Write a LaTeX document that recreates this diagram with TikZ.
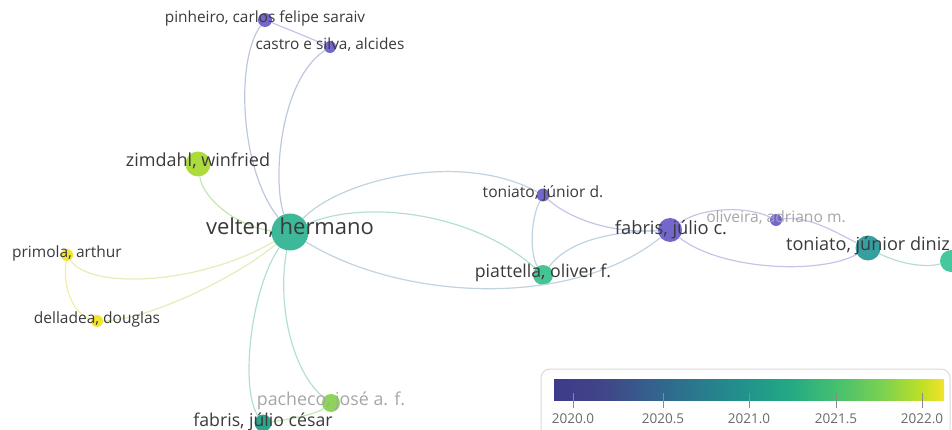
\documentclass[tikz,border=0pt]{standalone}
\usepackage{fontspec}
\setmainfont{Open Sans}
\definecolor{txt}{HTML}{3A3A3A}
\definecolor{faint}{HTML}{A6A6A6}
\definecolor{cpurple}{HTML}{7467CC}
\definecolor{cteal}{HTML}{3DB899}
\definecolor{clime}{HTML}{ADDB3E}
\definecolor{cyellow}{HTML}{F3E42C}
\definecolor{clgreen}{HTML}{8FD45A}
\definecolor{cdteal}{HTML}{2BA68C}
\definecolor{cpia}{HTML}{45C494}
\definecolor{cdiniz}{HTML}{36A0A0}
\definecolor{cright}{HTML}{45C89E}
\definecolor{epv}{HTML}{BDC8DE}
\definecolor{epp}{HTML}{C7C3E8}
\definecolor{ezim}{HTML}{C3E6B2}
\definecolor{eyel}{HTML}{E2EEBA}
\definecolor{eyy}{HTML}{F3EE9E}
\definecolor{etl}{HTML}{B3E0CE}
\definecolor{epg}{HTML}{C4E8B4}
\definecolor{emix}{HTML}{BFD3E0}
\definecolor{legbd}{HTML}{D9D9D9}
\definecolor{tickc}{HTML}{8A8A8A}
\definecolor{tlab}{HTML}{6A6A6A}
\definecolor{va}{HTML}{3E3A8C}
\definecolor{vb}{HTML}{414487}
\definecolor{vc}{HTML}{355F8D}
\definecolor{vd}{HTML}{2A788E}
\definecolor{ve}{HTML}{21918C}
\definecolor{vf}{HTML}{22A884}
\definecolor{vg}{HTML}{44BF70}
\definecolor{vh}{HTML}{7AD151}
\definecolor{vi}{HTML}{BDDF26}
\definecolor{vj}{HTML}{F3E42A}
\pgfdeclarehorizontalshading{viridis}{100bp}{color(0bp)=(va); color(25bp)=(va); color(31bp)=(vb); color(37bp)=(vc); color(43bp)=(vd); color(49bp)=(ve); color(55bp)=(vf); color(61bp)=(vg); color(67bp)=(vh); color(72bp)=(vi); color(75bp)=(vj); color(100bp)=(vj)}
\newcommand{\setfs}[1]{\fontsize{#1}{#1}\selectfont}
\tikzset{
  dot/.style={circle, inner sep=0pt, minimum size=#1, draw=none},
  lbl/.style={text=txt, inner sep=0pt, text height=0.72em, text depth=0.22em, anchor=center},
  lnk/.style={line width=1.2pt, draw=#1},
  tickline/.style={draw=tickc, line width=1pt},
}
\begin{document}
\begin{tikzpicture}[x=1pt,y=-1pt]
\useasboundingbox (0,0) rectangle (952,430);
\clip (0,0) rectangle (952,430);

% legend
\draw[draw=legbd, fill=white, rounded corners=9pt, line width=1pt] (541,369) rectangle (950,450);
\shade[shading=viridis] (554,379) rectangle (944,400);
\foreach \x/\t [count=\i] in {573/2020.0, 663/2020.5, 749/2021.0, 836/2021.5, 922/2022.0} {
  \draw[tickline] (\x,393) -- (\x,408);
  \node[text=tlab, inner sep=0pt, font=\setfs{13.5}] (tk\i) at (\x,418.5) {\t};
}

% nodes (circles)
\node[dot=37, fill=cteal] (velten) at (290,232) {};
\node[dot=14, fill=cpurple] (pinheiro) at (265,20) {};
\node[dot=12, fill=cpurple] (castro) at (330,47) {};
\node[dot=25, fill=clime] (zimdahl) at (198,164) {};
\node[dot=12, fill=cyellow] (primola) at (67,255) {};
\node[dot=12, fill=cyellow] (delladea) at (97,321) {};
\node[dot=18, fill=clgreen] (pacheco) at (331,403) {};
\node[dot=17, fill=cdteal] (fabrisjc) at (263,423) {};
\node[dot=13, fill=cpurple] (toniatod) at (543,195) {};
\node[dot=20, fill=cpia] (piattella) at (543,275) {};
\node[dot=24, fill=cpurple] (fabrisc) at (670,230) {};
\node[dot=12, fill=cpurple] (oliveira) at (776,220) {};
\node[dot=25, fill=cdiniz] (diniz) at (868,248) {};
\node[dot=22, fill=cright] (rightn) at (951,261) {};

% connectors
\draw[lnk=epv] (velten) .. controls (240,170) and (235,60) .. (pinheiro);
\draw[lnk=epv] (velten) .. controls (272,180) and (280,80) .. (castro);
\draw[lnk=epp] (pinheiro) .. controls (285,28) and (310,38) .. (castro);
\draw[lnk=ezim] (velten) .. controls (240,228) and (203,200) .. (zimdahl);
\draw[lnk=eyel] (velten) .. controls (200,285) and (90,290) .. (primola);
\draw[lnk=eyel] (velten) .. controls (240,275) and (150,320) .. (delladea);
\draw[lnk=eyy] (primola) .. controls (62,290) and (75,315) .. (delladea);
\draw[lnk=etl] (velten) .. controls (276,310) and (295,375) .. (pacheco);
\draw[lnk=etl] (velten) .. controls (250,290) and (240,390) .. (fabrisjc);
\draw[lnk=epg] (pacheco) .. controls (315,415) and (285,420) .. (fabrisjc);
\draw[lnk=emix] (velten) .. controls (340,180) and (460,150) .. (toniatod);
\draw[lnk=etl] (velten) .. controls (360,200) and (470,210) .. (piattella);
\draw[lnk=emix] (velten) .. controls (400,300) and (570,310) .. (fabrisc);
\draw[lnk=emix] (toniatod) .. controls (530,220) and (530,255) .. (piattella);
\draw[lnk=epp] (toniatod) .. controls (565,215) and (605,234) .. (fabrisc);
\draw[lnk=emix] (piattella) .. controls (565,245) and (600,232) .. (fabrisc);
\draw[lnk=epp] (fabrisc) .. controls (700,208) and (745,205) .. (oliveira);
\draw[lnk=epp] (oliveira) .. controls (810,215) and (840,235) .. (diniz);
\draw[lnk=epp] (fabrisc) .. controls (720,270) and (820,275) .. (diniz);
\draw[lnk=etl] (diniz) .. controls (900,264) and (925,268) .. (rightn);

% labels
\node[lbl, font=\setfs{22}] (lvelten) at (290,232) {velten, hermano};
\node[lbl, font=\setfs{15.4}] (lpinheiro) at (265,20) {pinheiro, carlos felipe saraiv};
\node[lbl, font=\setfs{15.4}] (lcastro) at (330,47) {castro e silva, alcides};
\node[lbl, font=\setfs{18}] (lzimdahl) at (198,164) {zimdahl, winfried};
\node[lbl, font=\setfs{15.5}] (lprimola) at (67,255) {primola, arthur};
\node[lbl, font=\setfs{15.5}] (ldelladea) at (97,321) {delladea, douglas};
\node[lbl, font=\setfs{17.8}, text=faint] (lpacheco) at (331,403) {pacheco, josé a. f.};
\node[lbl, font=\setfs{17.7}] (lfabrisjc) at (263,424) {fabris, júlio césar};
\node[lbl, font=\setfs{15.6}] (ltoniatod) at (543,195) {toniato, júnior d.};
\node[lbl, font=\setfs{17.7}] (lpiattella) at (543,275) {piattella, oliver f.};
\node[lbl, font=\setfs{18.3}] (lfabrisc) at (671,232) {fabris, júlio c.};
\node[lbl, font=\setfs{15.6}, text=faint] (loliveira) at (776,220) {oliveira, adriano m.};
\node[lbl, font=\setfs{18.1}] (ldiniz) at (868,248) {toniato, júnior diniz};
\end{tikzpicture}
\end{document}
